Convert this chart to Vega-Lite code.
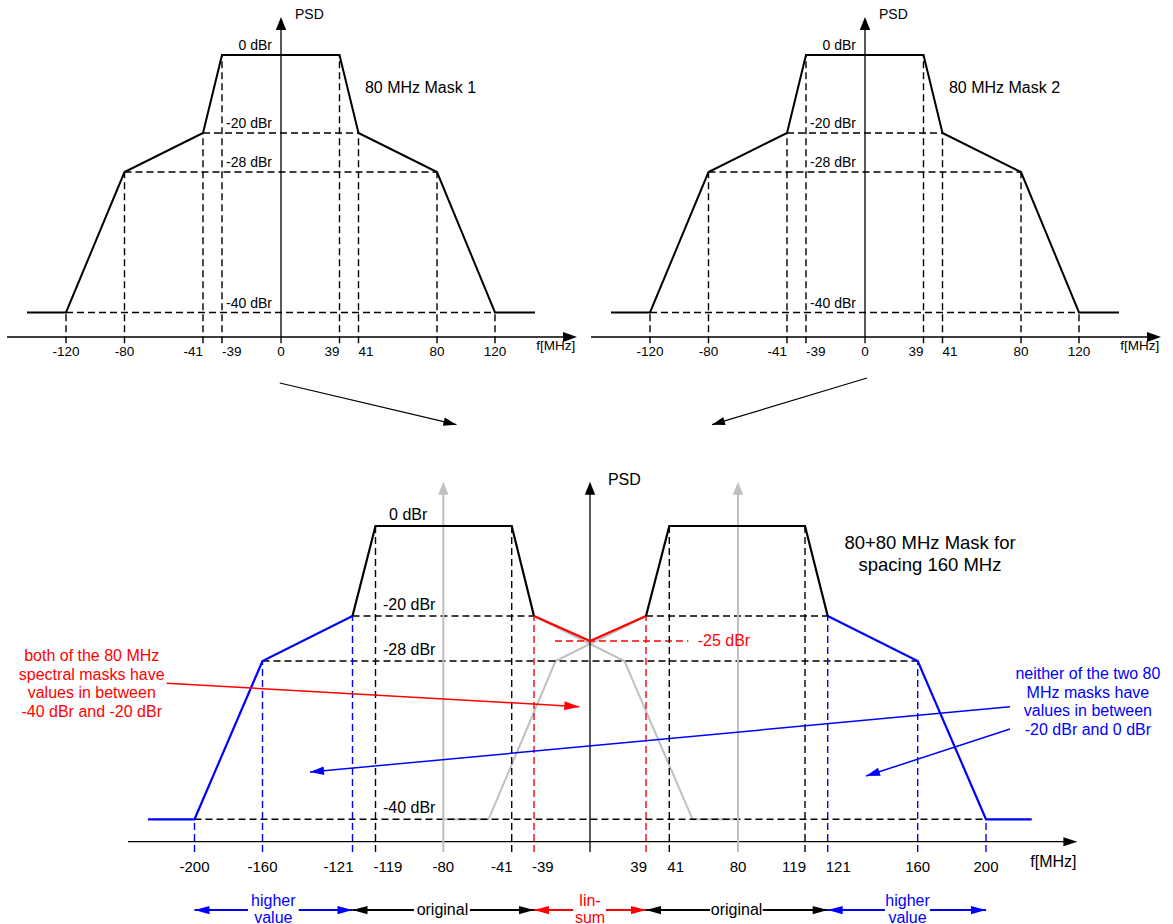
{
  "$schema": "https://vega.github.io/schema/vega-lite/v6.json",
  "padding": 0,
  "bounds": "flush",
  "spacing": 0,
  "background": "white",
  "config": {"view": {"stroke": null}, "font": "Liberation Sans", "concat": {"spacing": 0}},
  "datasets": {
    "top_mask": [
      {"f": -150, "p": -40}, {"f": -120, "p": -40}, {"f": -80, "p": -28}, {"f": -41, "p": -20}, {"f": -39, "p": 0},
      {"f": 39, "p": 0}, {"f": 41, "p": -20}, {"f": 80, "p": -28}, {"f": 120, "p": -40}, {"f": 150, "p": -40}
    ],
    "top_dash": [
      {"f": -41, "p": -20, "f2": 41, "p2": -20},
      {"f": -80, "p": -28, "f2": 80, "p2": -28},
      {"f": -120, "p": -40, "f2": 120, "p2": -40},
      {"f": -120, "p": -43.2, "f2": -120, "p2": -40},
      {"f": 120, "p": -43.2, "f2": 120, "p2": -40},
      {"f": -80, "p": -43.2, "f2": -80, "p2": -28},
      {"f": 80, "p": -43.2, "f2": 80, "p2": -28},
      {"f": -41, "p": -43.2, "f2": -41, "p2": -20},
      {"f": 41, "p": -43.2, "f2": 41, "p2": -20},
      {"f": -39, "p": -43.2, "f2": -39, "p2": 0},
      {"f": 39, "p": -43.2, "f2": 39, "p2": 0}
    ],
    "top_axes": [
      {"f": -170, "p": -42, "f2": 169, "p2": -42},
      {"f": 0, "p": -43.2, "f2": 0, "p2": 9}
    ],
    "top_heads": [
      {"f": 175, "p": -42, "dir": "right"},
      {"f": 0, "p": 12, "dir": "up"}
    ],
    "top_dbr": [
      {"f": -6, "p": 0, "t": "0 dBr"},
      {"f": -6, "p": -20, "t": "-20 dBr"},
      {"f": -6, "p": -28, "t": "-28 dBr"},
      {"f": -6, "p": -40, "t": "-40 dBr"}
    ],
    "top_ticks": [
      {"f": -120, "p": -44.9, "t": "-120"}, {"f": -80, "p": -44.9, "t": "-80"}, {"f": -41, "p": -44.9, "t": "-41"},
      {"f": -39, "p": -44.9, "t": "-39"}, {"f": 0, "p": -44.9, "t": "0"}, {"f": 39, "p": -44.9, "t": "39"},
      {"f": 41, "p": -44.9, "t": "41"}, {"f": 80, "p": -44.9, "t": "80"}, {"f": 120, "p": -44.9, "t": "120"}
    ],
    "bot_mask": [
      {"seg": "L1", "kind": "higher value", "f": -220, "p": -40},
      {"seg": "L1", "kind": "higher value", "f": -200, "p": -40},
      {"seg": "L1", "kind": "higher value", "f": -160, "p": -28},
      {"seg": "L1", "kind": "higher value", "f": -121, "p": -20},
      {"seg": "L2", "kind": "original", "f": -121, "p": -20},
      {"seg": "L2", "kind": "original", "f": -119, "p": 0},
      {"seg": "L2", "kind": "original", "f": -41, "p": 0},
      {"seg": "L2", "kind": "original", "f": -39, "p": -20},
      {"seg": "C", "kind": "lin-sum", "f": -39, "p": -20},
      {"seg": "C", "kind": "lin-sum", "f": 0, "p": -25},
      {"seg": "C", "kind": "lin-sum", "f": 39, "p": -20},
      {"seg": "R2", "kind": "original", "f": 39, "p": -20},
      {"seg": "R2", "kind": "original", "f": 41, "p": 0},
      {"seg": "R2", "kind": "original", "f": 119, "p": 0},
      {"seg": "R2", "kind": "original", "f": 121, "p": -20},
      {"seg": "R1", "kind": "higher value", "f": 121, "p": -20},
      {"seg": "R1", "kind": "higher value", "f": 160, "p": -28},
      {"seg": "R1", "kind": "higher value", "f": 200, "p": -40},
      {"seg": "R1", "kind": "higher value", "f": 220, "p": -40}
    ],
    "gray_mask": [
      {"seg": "G1", "f": -80, "p": -40}, {"seg": "G1", "f": -54.2, "p": -40}, {"seg": "G1", "f": -24, "p": -28}, {"seg": "G1", "f": 39, "p": -20},
      {"seg": "G2", "f": -39, "p": -20}, {"seg": "G2", "f": 24, "p": -28}, {"seg": "G2", "f": 54.2, "p": -40}, {"seg": "G2", "f": 80, "p": -40}
    ],
    "bot_dash": [
      {"kind": "guide", "f": -121, "p": -20, "f2": -39, "p2": -20},
      {"kind": "guide", "f": 39, "p": -20, "f2": 121, "p2": -20},
      {"kind": "guide", "f": -160, "p": -28, "f2": 160, "p2": -28},
      {"kind": "guide", "f": -200, "p": -40, "f2": 200, "p2": -40},
      {"kind": "lin-sum", "f": -24.4, "p": -25, "f2": 51.8, "p2": -25},
      {"kind": "original", "f": -119, "p": -44.25, "f2": -119, "p2": 0},
      {"kind": "original", "f": -41, "p": -44.25, "f2": -41, "p2": 0},
      {"kind": "original", "f": 41, "p": -44.25, "f2": 41, "p2": 0},
      {"kind": "original", "f": 119, "p": -44.25, "f2": 119, "p2": 0},
      {"kind": "higher value", "f": -200, "p": -44.25, "f2": -200, "p2": -40},
      {"kind": "higher value", "f": -160, "p": -44.25, "f2": -160, "p2": -28},
      {"kind": "higher value", "f": -121, "p": -44.25, "f2": -121, "p2": -20},
      {"kind": "higher value", "f": 121, "p": -44.25, "f2": 121, "p2": -20},
      {"kind": "higher value", "f": 160, "p": -44.25, "f2": 160, "p2": -28},
      {"kind": "higher value", "f": 200, "p": -44.25, "f2": 200, "p2": -40},
      {"kind": "lin-sum", "f": -39, "p": -44.25, "f2": -39, "p2": -20},
      {"kind": "lin-sum", "f": 39, "p": -44.25, "f2": 39, "p2": -20}
    ],
    "bot_axes": [
      {"f": -228.6, "p": -42, "f2": 235.4, "p2": -42},
      {"f": 0, "p": -44.25, "f2": 0, "p2": 9.3}
    ],
    "gray_arrows": [
      {"f": -80, "p": -44.25, "f2": -80, "p2": 9.3},
      {"f": 80, "p": -44.25, "f2": 80, "p2": 9.3}
    ],
    "row_segs": [
      {"kind": "higher value", "f": -200, "p": -56.94, "f2": -168.5, "p2": -56.94},
      {"kind": "higher value", "f": -144.3, "p": -56.94, "f2": -121, "p2": -56.94},
      {"kind": "original", "f": -121, "p": -56.94, "f2": -96.9, "p2": -56.94},
      {"kind": "original", "f": -64.8, "p": -56.94, "f2": -39, "p2": -56.94},
      {"kind": "lin-sum", "f": -39, "p": -56.94, "f2": -11.8, "p2": -56.94},
      {"kind": "lin-sum", "f": 11.1, "p": -56.94, "f2": 39, "p2": -56.94},
      {"kind": "original", "f": 39, "p": -56.94, "f2": 64.1, "p2": -56.94},
      {"kind": "original", "f": 94.4, "p": -56.94, "f2": 121, "p2": -56.94},
      {"kind": "higher value", "f": 121, "p": -56.94, "f2": 145.8, "p2": -56.94},
      {"kind": "higher value", "f": 167.2, "p": -56.94, "f2": 200, "p2": -56.94}
    ],
    "row_heads": [
      {"kind": "higher value", "f": -200, "p": -56.94, "dir": "left"},
      {"kind": "higher value", "f": -121, "p": -56.94, "dir": "right"},
      {"kind": "original", "f": -121, "p": -56.94, "dir": "left"},
      {"kind": "original", "f": -39, "p": -56.94, "dir": "right"},
      {"kind": "lin-sum", "f": -39, "p": -56.94, "dir": "left"},
      {"kind": "lin-sum", "f": 39, "p": -56.94, "dir": "right"},
      {"kind": "original", "f": 39, "p": -56.94, "dir": "left"},
      {"kind": "original", "f": 121, "p": -56.94, "dir": "right"},
      {"kind": "higher value", "f": 121, "p": -56.94, "dir": "left"},
      {"kind": "higher value", "f": 200, "p": -56.94, "dir": "right"}
    ],
    "row_text": [
      {"kind": "higher value", "f": -155.3, "p": -54.9, "t": "higher\nvalue"},
      {"kind": "original", "f": -80.5, "p": -56.94, "t": "original"},
      {"kind": "lin-sum", "f": 0, "p": -54.9, "t": "lin-\nsum"},
      {"kind": "original", "f": 79.2, "p": -56.94, "t": "original"},
      {"kind": "higher value", "f": 155.6, "p": -54.9, "t": "higher\nvalue"}
    ],
    "notes": [
      {"id": "red", "kind": "lin-sum", "f": -211.96, "p": -29.69, "f2": -7.45, "p2": -31.46},
      {"id": "blue1", "kind": "higher value", "f": 210.5, "p": -31.46, "f2": -139.4, "p2": -36.42},
      {"id": "blue2", "kind": "higher value", "f": 210.5, "p": -33.16, "f2": 137.6, "p2": -36.72}
    ],
    "note_text": [
      {"kind": "lin-sum", "f": -244.2, "p": -27.25, "t": "both of the 80 MHz\nspectral masks have\nvalues in between\n-40 dBr and -20 dBr"},
      {"kind": "higher value", "f": 244.6, "p": -28.99, "t": "neither of the two 80\nMHz masks have\nvalues in between\n-20 dBr and 0 dBr"}
    ],
    "bot_dbr": [
      {"kind": "guide", "f": -111.2, "p": 0, "t": "0 dBr"},
      {"kind": "guide", "f": -114.7, "p": -20, "t": "-20 dBr"},
      {"kind": "guide", "f": -114.7, "p": -28, "t": "-28 dBr"},
      {"kind": "guide", "f": -114.7, "p": -40, "t": "-40 dBr"}
    ],
    "bot_left_text": [
      {"kind": "guide", "f": 12.5, "p": 12.55, "t": "PSD"},
      {"kind": "lin-sum", "f": 57.1, "p": -25, "t": "-25 dBr"}
    ],
    "bot_ticks": [
      {"f": -200, "p": -47.53, "t": "-200"}, {"f": -160, "p": -47.53, "t": "-160"}, {"f": -121, "p": -47.53, "t": "-121"},
      {"f": -119, "p": -47.53, "t": "-119"}, {"f": -80, "p": -47.53, "t": "-80"}, {"f": -41, "p": -47.53, "t": "-41"},
      {"f": -39, "p": -47.53, "t": "-39"}, {"f": 39, "p": -47.53, "t": "39"}, {"f": 41, "p": -47.53, "t": "41"},
      {"f": 80, "p": -47.53, "t": "80"}, {"f": 119, "p": -47.53, "t": "119"}, {"f": 121, "p": -47.53, "t": "121"},
      {"f": 160, "p": -47.53, "t": "160"}, {"f": 200, "p": -47.53, "t": "200"}
    ]
  },
  "vconcat": [
    {
      "width": 1173, "height": 430,
      "resolve": {"scale": {"x": "independent"}},
      "layer": [
        {
          "encoding": {
            "x": {"field": "f", "type": "quantitative", "axis": null, "scale": {"domain": [-170, -150, -120, -80, -41, -39, 0, 39, 41, 80, 120, 150, 175], "range": [7, 27, 66, 124.5, 203, 222, 281, 339.5, 358.5, 437, 495, 535, 577], "zero": false, "nice": false}},
            "y": {"field": "p", "type": "quantitative", "axis": null, "scale": {"domain": [-60, -42, -40, -28, -20, 0, 12], "range": [430, 337, 312.5, 172, 133, 55, 17], "zero": false, "nice": false}}
          },
          "layer": [
            {"data": {"name": "top_dash"}, "mark": {"type": "rule", "color": "#000000", "strokeWidth": 1.4, "strokeDash": [7, 4]}, "encoding": {"x2": {"field": "f2"}, "y2": {"field": "p2"}}},
            {"data": {"name": "top_axes"}, "mark": {"type": "rule", "color": "#000000", "strokeWidth": 1.3}, "encoding": {"x2": {"field": "f2"}, "y2": {"field": "p2"}}},
            {"data": {"name": "top_mask"}, "mark": {"type": "line", "color": "#000000", "strokeWidth": 2}},
            {"data": {"name": "top_heads"}, "transform": [{"filter": "datum.dir === 'right'"}], "mark": {"type": "point", "shape": "M0,0L-2,-0.7L-2,0.7Z", "size": 196, "filled": true, "opacity": 1, "color": "#000000", "strokeWidth": 0, "angle": 0}},
            {"data": {"name": "top_heads"}, "transform": [{"filter": "datum.dir === 'up'"}], "mark": {"type": "point", "shape": "M0,0L-2,-0.8L-2,0.8Z", "size": 169, "filled": true, "opacity": 1, "color": "#000000", "strokeWidth": 0, "angle": -90}},
            {"data": {"values": [{"f": -0.8, "p": -50.9, "f2": 93.4, "p2": -58.97}]}, "mark": {"type": "rule", "color": "#000000", "strokeWidth": 1.2}, "encoding": {"x2": {"field": "f2"}, "y2": {"field": "p2"}}},
            {"data": {"values": [{"f": 93.4, "p": -58.97}]}, "mark": {"type": "point", "shape": "M0,0L-2,-0.65L-2,0.65Z", "size": 169, "filled": true, "opacity": 1, "color": "#000000", "strokeWidth": 0, "angle": 13.3}},
            {"data": {"name": "top_dbr"}, "mark": {"type": "text", "align": "right", "baseline": "middle", "dy": -9, "fontSize": 14, "color": "#000000"}, "encoding": {"text": {"field": "t"}}},
            {"data": {"name": "top_ticks"}, "transform": [{"filter": {"not": {"field": "f", "oneOf": [-41, -39, 39, 41]}}}], "mark": {"type": "text", "align": "center", "baseline": "middle", "fontSize": 13.5, "color": "#000000"}, "encoding": {"text": {"field": "t"}}},
            {"data": {"name": "top_ticks"}, "transform": [{"filter": {"field": "f", "oneOf": [-41, 39]}}], "mark": {"type": "text", "align": "right", "baseline": "middle", "fontSize": 13.5, "color": "#000000"}, "encoding": {"text": {"field": "t"}}},
            {"data": {"name": "top_ticks"}, "transform": [{"filter": {"field": "f", "oneOf": [-39, 41]}}], "mark": {"type": "text", "align": "left", "baseline": "middle", "fontSize": 13.5, "color": "#000000"}, "encoding": {"text": {"field": "t"}}},
            {"data": {"values": [{"f": 9.3, "p": 12, "t": "PSD"}]}, "mark": {"type": "text", "align": "left", "baseline": "middle", "dy": -2, "fontSize": 14, "color": "#000000"}, "encoding": {"text": {"field": "t"}}},
            {"data": {"values": [{"f": 162.3, "p": -43.74, "t": "f[MHz]"}]}, "mark": {"type": "text", "align": "center", "baseline": "middle", "fontSize": 13.5, "color": "#000000"}, "encoding": {"text": {"field": "t"}}},
            {"data": {"values": [{"f": 44.2, "p": -8.54, "t": "80 MHz Mask 1"}]}, "mark": {"type": "text", "align": "left", "baseline": "middle", "fontSize": 16, "color": "#000000"}, "encoding": {"text": {"field": "t"}}}
          ]
        },
        {
          "encoding": {
            "x": {"field": "f", "type": "quantitative", "axis": null, "scale": {"domain": [-170, -150, -120, -80, -41, -39, 0, 39, 41, 80, 120, 150, 175], "range": [591, 611, 650, 708.5, 787, 806, 865, 923.5, 942.5, 1021, 1079, 1119, 1161], "zero": false, "nice": false}},
            "y": {"field": "p", "type": "quantitative", "axis": null, "scale": {"domain": [-60, -42, -40, -28, -20, 0, 12], "range": [430, 337, 312.5, 172, 133, 55, 17], "zero": false, "nice": false}}
          },
          "layer": [
            {"data": {"name": "top_dash"}, "mark": {"type": "rule", "color": "#000000", "strokeWidth": 1.4, "strokeDash": [7, 4]}, "encoding": {"x2": {"field": "f2"}, "y2": {"field": "p2"}}},
            {"data": {"name": "top_axes"}, "mark": {"type": "rule", "color": "#000000", "strokeWidth": 1.3}, "encoding": {"x2": {"field": "f2"}, "y2": {"field": "p2"}}},
            {"data": {"name": "top_mask"}, "mark": {"type": "line", "color": "#000000", "strokeWidth": 2}},
            {"data": {"name": "top_heads"}, "transform": [{"filter": "datum.dir === 'right'"}], "mark": {"type": "point", "shape": "M0,0L-2,-0.7L-2,0.7Z", "size": 196, "filled": true, "opacity": 1, "color": "#000000", "strokeWidth": 0, "angle": 0}},
            {"data": {"name": "top_heads"}, "transform": [{"filter": "datum.dir === 'up'"}], "mark": {"type": "point", "shape": "M0,0L-2,-0.8L-2,0.8Z", "size": 169, "filled": true, "opacity": 1, "color": "#000000", "strokeWidth": 0, "angle": -90}},
            {"data": {"values": [{"f": 1.33, "p": -49.94, "f2": -78.26, "p2": -58.97}]}, "mark": {"type": "rule", "color": "#000000", "strokeWidth": 1.2}, "encoding": {"x2": {"field": "f2"}, "y2": {"field": "p2"}}},
            {"data": {"values": [{"f": -78.26, "p": -58.97}]}, "mark": {"type": "point", "shape": "M0,0L-2,-0.65L-2,0.65Z", "size": 169, "filled": true, "opacity": 1, "color": "#000000", "strokeWidth": 0, "angle": 163.2}},
            {"data": {"name": "top_dbr"}, "mark": {"type": "text", "align": "right", "baseline": "middle", "dy": -9, "fontSize": 14, "color": "#000000"}, "encoding": {"text": {"field": "t"}}},
            {"data": {"name": "top_ticks"}, "transform": [{"filter": {"not": {"field": "f", "oneOf": [-41, -39, 39, 41]}}}], "mark": {"type": "text", "align": "center", "baseline": "middle", "fontSize": 13.5, "color": "#000000"}, "encoding": {"text": {"field": "t"}}},
            {"data": {"name": "top_ticks"}, "transform": [{"filter": {"field": "f", "oneOf": [-41, 39]}}], "mark": {"type": "text", "align": "right", "baseline": "middle", "fontSize": 13.5, "color": "#000000"}, "encoding": {"text": {"field": "t"}}},
            {"data": {"name": "top_ticks"}, "transform": [{"filter": {"field": "f", "oneOf": [-39, 41]}}], "mark": {"type": "text", "align": "left", "baseline": "middle", "fontSize": 13.5, "color": "#000000"}, "encoding": {"text": {"field": "t"}}},
            {"data": {"values": [{"f": 9.3, "p": 12, "t": "PSD"}]}, "mark": {"type": "text", "align": "left", "baseline": "middle", "dy": -2, "fontSize": 14, "color": "#000000"}, "encoding": {"text": {"field": "t"}}},
            {"data": {"values": [{"f": 162.3, "p": -43.74, "t": "f[MHz]"}]}, "mark": {"type": "text", "align": "center", "baseline": "middle", "fontSize": 13.5, "color": "#000000"}, "encoding": {"text": {"field": "t"}}},
            {"data": {"values": [{"f": 44.2, "p": -8.54, "t": "80 MHz Mask 2"}]}, "mark": {"type": "text", "align": "left", "baseline": "middle", "fontSize": 16, "color": "#000000"}, "encoding": {"text": {"field": "t"}}}
          ]
        }
      ]
    },
    {
      "width": 1173, "height": 494,
      "encoding": {
        "x": {"field": "f", "type": "quantitative", "axis": null, "scale": {"domain": [-240, -220, -200, -160, -121, -119, -80, -41, -39, 0, 39, 41, 80, 119, 121, 160, 200, 220, 240], "range": [101.5, 148, 194.5, 262.5, 352.5, 375.5, 443.3, 511.7, 534, 590, 646, 669.3, 738, 805, 827.7, 917.7, 986, 1031.7, 1077.4], "zero": false, "nice": false}},
        "y": {"field": "p", "type": "quantitative", "axis": null, "scale": {"domain": [-60, -42, -40, -28, -25, -20, 0, 12], "range": [494, 411.7, 389.3, 231, 211, 186, 96, 51.7], "zero": false, "nice": false}}
      },
      "layer": [
        {"data": {"name": "gray_mask"}, "mark": {"type": "line", "color": "#c0c0c0", "strokeWidth": 2}, "encoding": {"detail": {"field": "seg"}}},
        {"data": {"name": "bot_dash"}, "mark": {"type": "rule", "strokeWidth": 1.4, "strokeDash": [7, 4]}, "encoding": {"x2": {"field": "f2"}, "y2": {"field": "p2"}, "color": {"field": "kind", "type": "nominal", "legend": null, "scale": {"domain": ["higher value", "original", "lin-sum", "guide"], "range": ["#0000ff", "#000000", "#ff0000", "#000000"]}}}},
        {"data": {"name": "bot_axes"}, "mark": {"type": "rule", "color": "#000000", "strokeWidth": 1.3}, "encoding": {"x2": {"field": "f2"}, "y2": {"field": "p2"}}},
        {"data": {"name": "gray_arrows"}, "mark": {"type": "rule", "color": "#c0c0c0", "strokeWidth": 2}, "encoding": {"x2": {"field": "f2"}, "y2": {"field": "p2"}}},
        {"data": {"name": "bot_mask"}, "mark": {"type": "line", "strokeWidth": 2.2}, "encoding": {"detail": {"field": "seg"}, "color": {"field": "kind", "type": "nominal", "legend": null}}},
        {"data": {"values": [{"f": 0, "p": 12}]}, "mark": {"type": "point", "shape": "M0,0L-2,-0.8L-2,0.8Z", "size": 169, "filled": true, "opacity": 1, "color": "#000000", "strokeWidth": 0, "angle": -90}},
        {"data": {"values": [{"f": -80, "p": 12}, {"f": 80, "p": 12}]}, "mark": {"type": "point", "shape": "M0,0L-2,-0.8L-2,0.8Z", "size": 169, "filled": true, "opacity": 1, "color": "#c0c0c0", "strokeWidth": 0, "angle": -90}},
        {"data": {"values": [{"f": 240, "p": -42}]}, "mark": {"type": "point", "shape": "M0,0L-2,-0.65L-2,0.65Z", "size": 196, "filled": true, "opacity": 1, "color": "#000000", "strokeWidth": 0, "angle": 0}},
        {"data": {"name": "row_segs"}, "mark": {"type": "rule", "strokeWidth": 1.8}, "encoding": {"x2": {"field": "f2"}, "y2": {"field": "p2"}, "color": {"field": "kind", "type": "nominal", "legend": null}}},
        {"data": {"name": "row_heads"}, "transform": [{"filter": "datum.dir === 'left'"}], "mark": {"type": "point", "shape": "M0,0L-2,-0.55L-2,0.55Z", "size": 225, "filled": true, "opacity": 1, "strokeWidth": 0, "angle": 180}, "encoding": {"color": {"field": "kind", "type": "nominal", "legend": null}}},
        {"data": {"name": "row_heads"}, "transform": [{"filter": "datum.dir === 'right'"}], "mark": {"type": "point", "shape": "M0,0L-2,-0.55L-2,0.55Z", "size": 225, "filled": true, "opacity": 1, "strokeWidth": 0, "angle": 0}, "encoding": {"color": {"field": "kind", "type": "nominal", "legend": null}}},
        {"data": {"name": "notes"}, "mark": {"type": "rule", "strokeWidth": 1.5}, "encoding": {"x2": {"field": "f2"}, "y2": {"field": "p2"}, "color": {"field": "kind", "type": "nominal", "legend": null}}},
        {"data": {"name": "notes"}, "transform": [{"filter": "datum.id === 'red'"}], "mark": {"type": "point", "shape": "M0,0L-2,-0.6L-2,0.6Z", "size": 225, "filled": true, "opacity": 1, "strokeWidth": 0, "angle": 3.25}, "encoding": {"x": {"field": "f2", "type": "quantitative"}, "y": {"field": "p2", "type": "quantitative"}, "color": {"field": "kind", "type": "nominal", "legend": null}}},
        {"data": {"name": "notes"}, "transform": [{"filter": "datum.id === 'blue1'"}], "mark": {"type": "point", "shape": "M0,0L-2,-0.6L-2,0.6Z", "size": 196, "filled": true, "opacity": 1, "strokeWidth": 0, "angle": 174.67}, "encoding": {"x": {"field": "f2", "type": "quantitative"}, "y": {"field": "p2", "type": "quantitative"}, "color": {"field": "kind", "type": "nominal", "legend": null}}},
        {"data": {"name": "notes"}, "transform": [{"filter": "datum.id === 'blue2'"}], "mark": {"type": "point", "shape": "M0,0L-2,-0.6L-2,0.6Z", "size": 196, "filled": true, "opacity": 1, "strokeWidth": 0, "angle": 161.9}, "encoding": {"x": {"field": "f2", "type": "quantitative"}, "y": {"field": "p2", "type": "quantitative"}, "color": {"field": "kind", "type": "nominal", "legend": null}}},
        {"data": {"name": "bot_dbr"}, "mark": {"type": "text", "align": "left", "baseline": "middle", "dy": -11.5, "fontSize": 16}, "encoding": {"text": {"field": "t"}, "color": {"field": "kind", "type": "nominal", "legend": null}}},
        {"data": {"name": "bot_left_text"}, "mark": {"type": "text", "align": "left", "baseline": "middle", "fontSize": 16}, "encoding": {"text": {"field": "t"}, "color": {"field": "kind", "type": "nominal", "legend": null}}},
        {"data": {"name": "bot_ticks"}, "transform": [{"filter": {"not": {"field": "f", "oneOf": [-121, -119, -41, -39, 39, 41, 119, 121]}}}], "mark": {"type": "text", "align": "center", "baseline": "middle", "fontSize": 15, "color": "#000000"}, "encoding": {"text": {"field": "t"}}},
        {"data": {"name": "bot_ticks"}, "transform": [{"filter": {"field": "f", "oneOf": [-121, -41, 39, 119]}}], "mark": {"type": "text", "align": "right", "baseline": "middle", "dx": 1, "fontSize": 15, "color": "#000000"}, "encoding": {"text": {"field": "t"}}},
        {"data": {"name": "bot_ticks"}, "transform": [{"filter": {"field": "f", "oneOf": [-119, -39, 41, 121]}}], "mark": {"type": "text", "align": "left", "baseline": "middle", "dx": -2, "fontSize": 15, "color": "#000000"}, "encoding": {"text": {"field": "t"}}},
        {"data": {"values": [{"f": 229.5, "p": -46.37, "t": "f[MHz]"}]}, "mark": {"type": "text", "align": "center", "baseline": "middle", "fontSize": 16, "color": "#000000"}, "encoding": {"text": {"field": "t"}}},
        {"data": {"values": [{"f": 167.2, "p": -3.71, "t": "80+80 MHz Mask for\nspacing 160 MHz"}]}, "mark": {"type": "text", "align": "center", "baseline": "middle", "fontSize": 18.5, "lineHeight": 22.5, "lineBreak": "\n", "color": "#000000"}, "encoding": {"text": {"field": "t"}}},
        {"data": {"name": "note_text"}, "mark": {"type": "text", "align": "center", "baseline": "middle", "fontSize": 16, "lineHeight": 18.6, "lineBreak": "\n"}, "encoding": {"text": {"field": "t"}, "color": {"field": "kind", "type": "nominal", "legend": null}}},
        {"data": {"name": "row_text"}, "mark": {"type": "text", "align": "center", "baseline": "middle", "fontSize": 16, "lineHeight": 17.5, "lineBreak": "\n"}, "encoding": {"text": {"field": "t"}, "color": {"field": "kind", "type": "nominal", "legend": null}}}
      ]
    }
  ]
}
